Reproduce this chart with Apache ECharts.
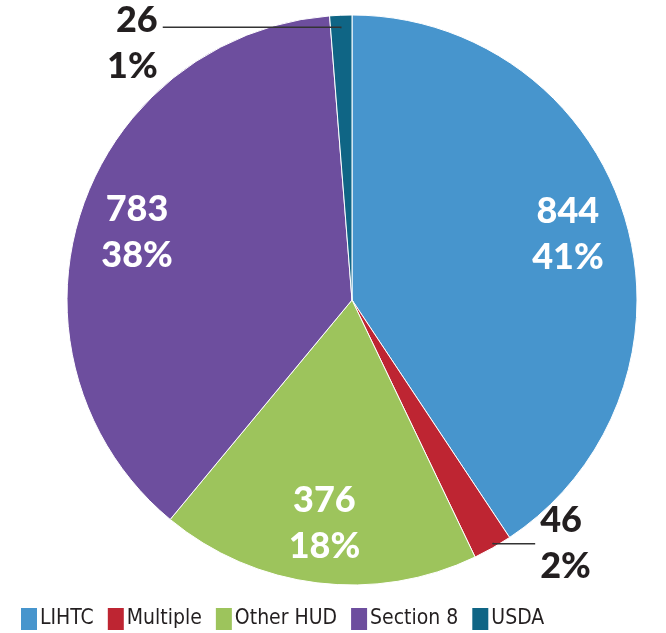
<!DOCTYPE html>
<html>
<head>
<meta charset="utf-8">
<script src="https://cdn.jsdelivr.net/npm/echarts@6/dist/echarts.min.js"></script>
<style>
  html, body { margin: 0; padding: 0; background: #fff; }
  #chart { width: 666px; height: 633px; }
</style>
</head>
<body>
<div id="chart"></div>
<script>
// 数据
const categories = ["LIHTC", "Multiple", "Other HUD", "Section 8", "USDA"];
const counts = [844, 46, 376, 783, 26];
const colors = ["#4795cd", "#be2532", "#9dc45c", "#6d4e9e", "#0f6585"];
// which slices get their label inside the pie
const insideLabel = [true, false, true, true, false];

const labelFont = {
  fontFamily: "Lato, Roboto, sans-serif",
  fontWeight: 900,
  fontSize: 36,
  lineHeight: 46,
};

// nudge for the outside labels (text shift, leader line shift)
const outsideNudge = {
  Multiple: { dy: -5, line: -5 },
  USDA: { dy: 29, line: 13 },
};

const chart = echarts.init(document.getElementById("chart"));

// 扇区（不带标签）
const sliceData = categories.map((name, i) => ({
  name: name,
  value: counts[i],
  itemStyle: { color: colors[i] },
}));

// 标签层：透明扇区，大块标签在内，小块标签在外
const labelData = categories.map((name, i) => {
  const item = {
    name: name,
    value: counts[i],
    itemStyle: { color: "rgba(0,0,0,0)" },
  };
  if (insideLabel[i]) {
    item.label = { position: "inside", color: "#fff" };
    item.labelLine = { show: false };
  } else {
    item.label = { position: "outside", color: "#231f20" };
    item.labelLine = {
      show: true,
      length: 1,
      length2: name === "USDA" ? 178 : 42,
    };
  }
  return item;
});

const option = {
  animation: false,
  legend: {
    data: categories,
    left: 19,
    bottom: 1,
    padding: 0,
    icon: "rect",
    itemWidth: 18,
    itemHeight: 24,
    itemGap: 12,
    textStyle: {
      color: "#231f20",
      fontSize: 21,
      fontFamily: "'DejaVu Sans Condensed', sans-serif",
      padding: [0, 0, 0, -3],
    },
  },
  series: [
    {
      type: "pie",
      z: 2,
      center: [352, 300],
      radius: [0, 285],
      startAngle: 90,
      clockwise: true,
      itemStyle: { borderColor: "#fff", borderWidth: 1 },
      label: { show: false },
      labelLine: { show: false },
      emphasis: { disabled: true },
      data: sliceData,
    },
    {
      type: "pie",
      z: 5,
      center: [352, 300],
      radius: [160, 285],
      startAngle: 90,
      clockwise: true,
      percentPrecision: 0,
      avoidLabelOverlap: false,
      silent: true,
      label: {
        show: true,
        formatter: "{c}\n{d}%",
        ...labelFont,
      },
      labelLine: {
        lineStyle: { color: "#333", width: 1.5 },
      },
      labelLayout: function (params) {
        const nudge = outsideNudge[categories[params.dataIndex]];
        if (!nudge || !params.labelLinePoints) return {};
        return {
          dy: nudge.dy,
          labelLinePoints: params.labelLinePoints.map((p) => [p[0], p[1] + nudge.line]),
        };
      },
      data: labelData,
    },
  ],
};

chart.setOption(option);
</script>
</body>
</html>
